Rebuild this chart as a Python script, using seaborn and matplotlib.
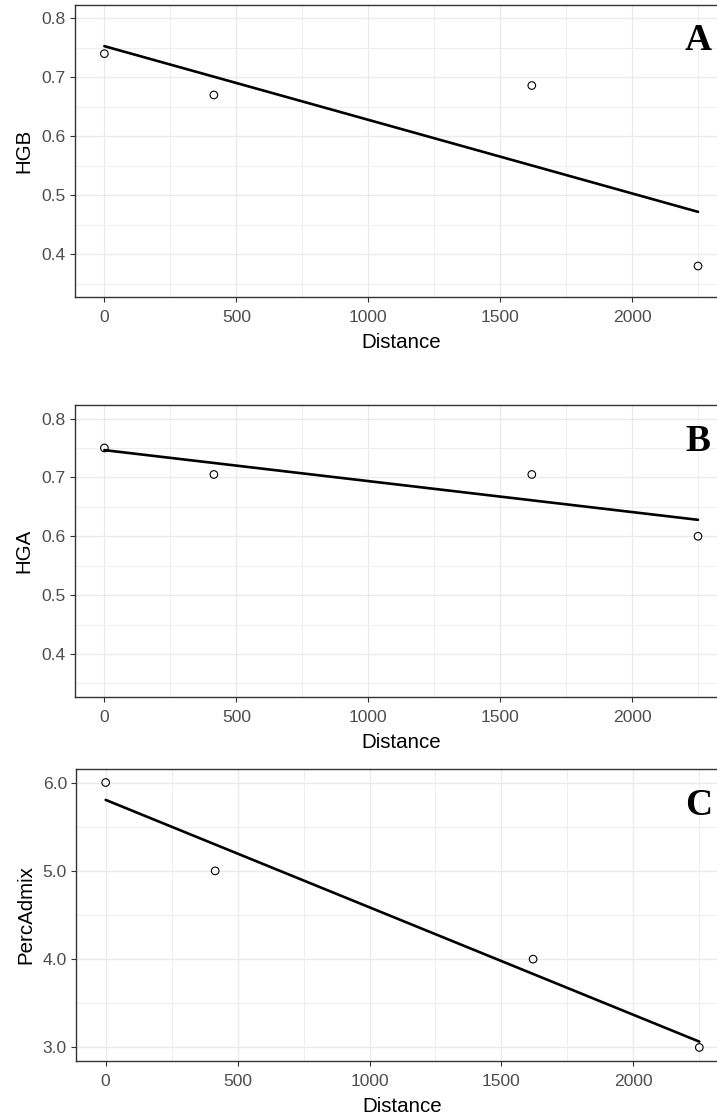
import numpy as np
import pandas as pd
import matplotlib
matplotlib.use("Agg")
import matplotlib.pyplot as plt
from matplotlib.ticker import MultipleLocator, FixedLocator
import seaborn as sns

# Sampling sites along the transect and the measured indices
distance = [0, 415, 1620, 2250]
hgb = [0.74, 0.67, 0.686, 0.38]
hga = [0.75, 0.705, 0.705, 0.60]
perc_admix = [6.0, 5.0, 4.0, 3.0]

panel_letters = ["A", "B", "C"]
y_names = ["HGB", "HGA", "PercAdmix"]
y_limits = [(0.35, 0.80), (0.35, 0.80), (3.0, 6.0)]
y_major = [[0.4, 0.5, 0.6, 0.7, 0.8], [0.4, 0.5, 0.6, 0.7, 0.8], [3.0, 4.0, 5.0, 6.0]]
y_tick_labels = [["0.4", "0.5", "0.6", "0.7", "0.8"],
                 ["0.4", "0.5", "0.6", "0.7", "0.8"],
                 ["3.0", "4.0", "5.0", "6.0"]]
x_major = [0, 500, 1000, 1500, 2000]

df = pd.DataFrame({"Distance": distance, "HGB": hgb, "HGA": hga, "PercAdmix": perc_admix})

sns.set_theme(style="white")
plt.rcParams["font.family"] = ["Liberation Sans", "DejaVu Sans"]

W, H = 717, 1116
fig = plt.figure(figsize=(W / 100, H / 100), dpi=100)

# panel boxes in pixels: left, top, bottom
boxes = [(74.7, 5.0, 297.0), (74.7, 405.3, 696.7), (76.0, 769.3, 1060.7)]
ax_w = 653.0

GRID = "#EBEBEB"
BORDER = "#333333"
TICKTXT = "#4D4D4D"


def expand(lo, hi, f=0.05):
    d = (hi - lo) * f
    return lo - d, hi + d


xlim = expand(min(distance), max(distance))

for i, yname in enumerate(y_names):
    left, top, bottom = boxes[i]
    ax = fig.add_axes([left / W, (H - bottom) / H, ax_w / W, (bottom - top) / H])
    sns.regplot(data=df, x="Distance", y=yname, ax=ax, ci=None, truncate=True,
                color="black", marker="o",
                scatter_kws={"facecolors": "none", "edgecolors": "black",
                             "s": 30, "linewidths": 0.8, "alpha": 1, "zorder": 3},
                line_kws={"color": "black", "linewidth": 1.9, "zorder": 4})
    ax.set_xlim(*xlim)
    ax.set_ylim(*expand(*y_limits[i]))

    ax.xaxis.set_major_locator(FixedLocator(x_major))
    ax.xaxis.set_minor_locator(MultipleLocator(250))
    ax.yaxis.set_major_locator(FixedLocator(y_major[i]))
    step = y_major[i][1] - y_major[i][0]
    ax.yaxis.set_minor_locator(FixedLocator(
        np.arange(y_major[i][0] - step / 2, y_major[i][-1] + step, step / 2)))
    ax.set_xticklabels([str(v) for v in x_major])
    ax.set_yticklabels(y_tick_labels[i])

    ax.grid(True, which="major", color=GRID, linewidth=1.0, zorder=0)
    ax.grid(True, which="minor", color=GRID, linewidth=0.6, zorder=0)
    ax.set_axisbelow(True)

    for sp in ax.spines.values():
        sp.set_color(BORDER)
        sp.set_linewidth(1.0)
        sp.set_visible(True)

    ax.tick_params(which="major", direction="out", length=3.3, width=0.8,
                   color=BORDER, labelcolor=TICKTXT, labelsize=12.6,
                   bottom=True, left=True)
    ax.tick_params(axis="x", which="major", pad=6.2)
    ax.tick_params(axis="y", which="major", pad=3.2)
    ax.tick_params(which="minor", length=0, bottom=False, left=False)

    ax.set_xlabel("Distance", fontsize=14.8, color="black", labelpad=5.6)
    ax.set_ylabel(yname, fontsize=14.8, color="black", labelpad=5.6)

    ax.text(0.954, 0.877, panel_letters[i], transform=ax.transAxes,
            ha="center", va="center", fontsize=27, fontweight="bold",
            family=["Liberation Serif", "DejaVu Serif"], color="black")

fig.savefig("out.png", dpi=100, facecolor="white")
